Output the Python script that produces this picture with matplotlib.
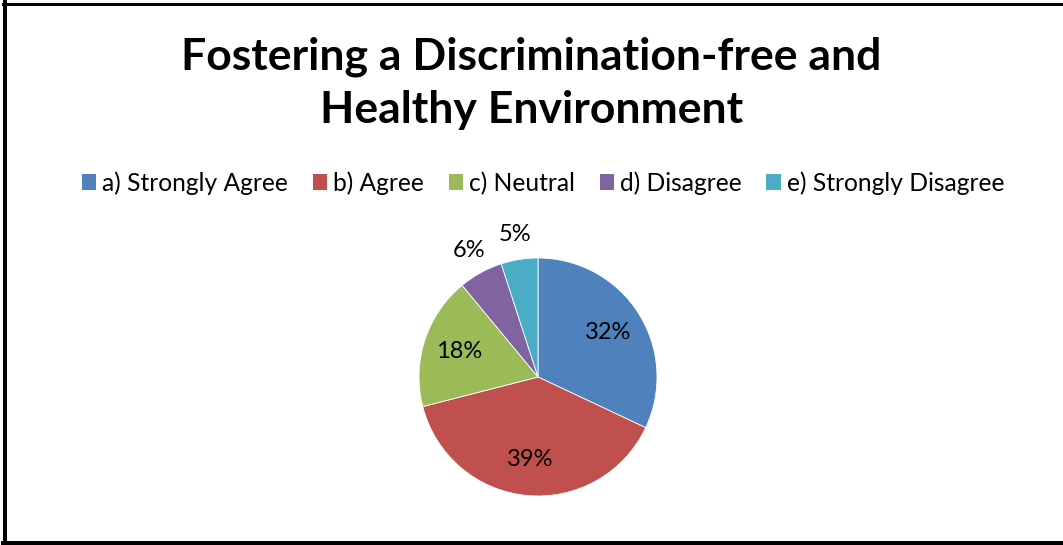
import matplotlib
matplotlib.use('Agg')
import matplotlib.pyplot as plt
from matplotlib.patches import Patch
from matplotlib.lines import Line2D
import numpy as np

plt.rcParams['font.family'] = ['Lato', 'DejaVu Sans']

# survey answers
categories = ['a) Strongly Agree', 'b) Agree', 'c) Neutral', 'd) Disagree', 'e) Strongly Disagree']
shares = [32, 39, 18, 6, 5]
colors = ['#4F81BD', '#C0504D', '#9BBB59', '#8064A2', '#4BACC6']
title = 'Fostering a Discrimination-free and\nHealthy Environment'

W, H = 1063, 545
fig = plt.figure(figsize=(W / 100, H / 100), dpi=100)

# pie axes, centre (538, 377) px, radius 119 px
cx, cy, r = 538, 377, 119
ax = fig.add_axes([(cx - r) / W, (H - cy - r) / H, 2 * r / W, 2 * r / H])
wedges, _ = ax.pie(shares, colors=colors, startangle=90, counterclock=False,
                   radius=1, wedgeprops=dict(edgecolor='white', linewidth=0.6))
ax.set_xlim(-1, 1)
ax.set_ylim(-1, 1)
ax.set_aspect('equal')
ax.axis('off')

# percentage labels: inside for big slices, outside for small ones
for w, v in zip(wedges, shares):
    mid = np.deg2rad((w.theta1 + w.theta2) / 2)
    d = 0.7 if v >= 10 else 1.21
    ax.text(d * np.cos(mid), d * np.sin(mid), f'{v}%', ha='center', va='center',
            fontsize=17, color='black', clip_on=False)

fig.text(0.5, 1 - 83 / H, title, ha='center', va='center', fontsize=32,
         fontweight='bold', linespacing=1.4)

handles = [Patch(facecolor=c, edgecolor='none') for c in colors]
fig.legend(handles, categories, loc='center', bbox_to_anchor=(0.511, 1 - 183 / H),
           ncol=5, frameon=False, fontsize=17.7, handlelength=0.58, handleheight=0.58,
           handletextpad=0.25, columnspacing=1.0)

# chart frame
lw = 4 * 72 / 100
fig.add_artist(Line2D([3 / W, 1], [1 - 3.5 / H] * 2, transform=fig.transFigure,
                      color='black', linewidth=3 * 72 / 100))
fig.add_artist(Line2D([5 / W] * 2, [1, 0], transform=fig.transFigure,
                      color='black', linewidth=lw))
fig.add_artist(Line2D([3 / W, 1], [2.5 / H] * 2, transform=fig.transFigure,
                      color='black', linewidth=lw))

fig.savefig('out.png', dpi=100)
